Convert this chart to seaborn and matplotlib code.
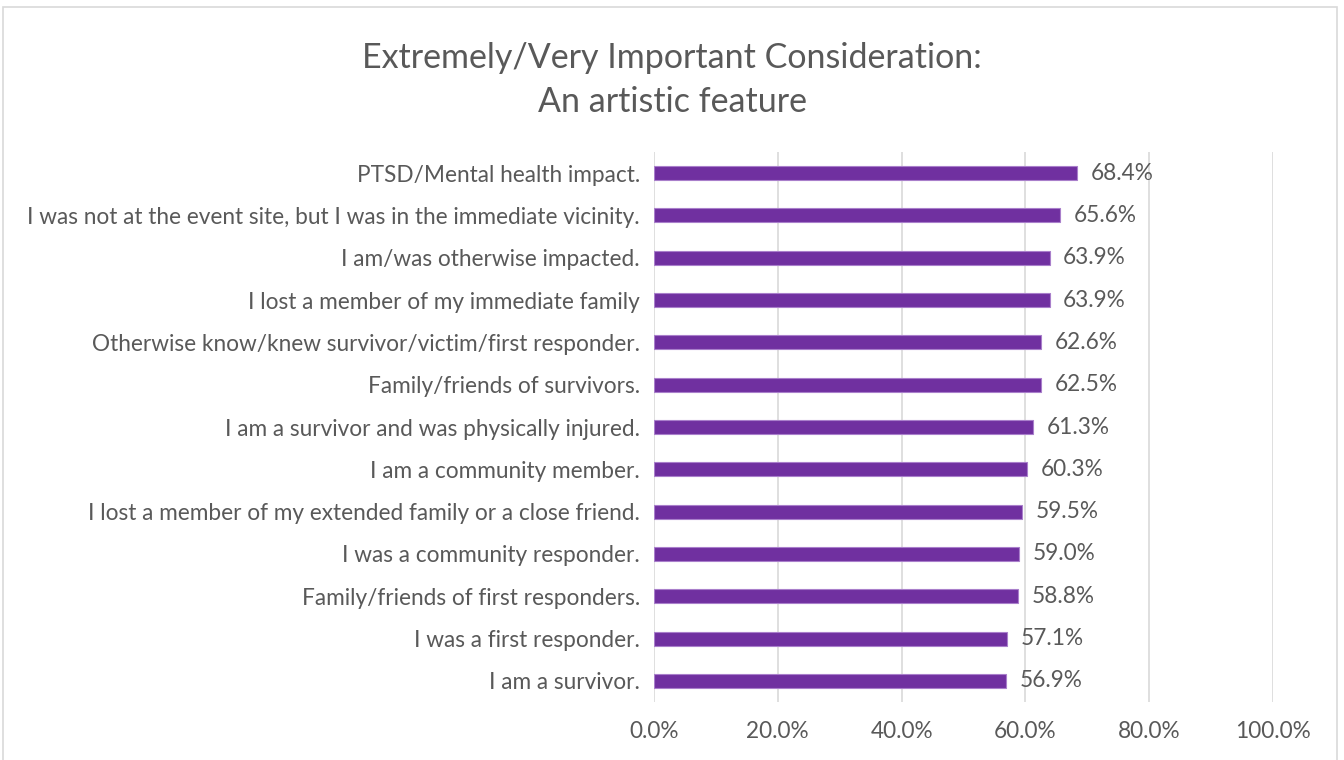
"""Horizontal bar chart: Extremely/Very Important Consideration - An artistic feature."""

import matplotlib

matplotlib.use("Agg")

import matplotlib.pyplot as plt  # noqa: E402
import pandas as pd  # noqa: E402
import seaborn as sns  # noqa: E402
from matplotlib.ticker import FuncFormatter  # noqa: E402

categories = [
    "PTSD/Mental health impact.",
    "I was not at the event site, but I was in the immediate vicinity.",
    "I am/was otherwise impacted.",
    "I lost a member of my immediate family",
    "Otherwise know/knew survivor/victim/first responder.",
    "Family/friends of survivors.",
    "I am a survivor and was physically injured.",
    "I am a community member.",
    "I lost a member of my extended family or a close friend.",
    "I was a community responder.",
    "Family/friends of first responders.",
    "I was a first responder.",
    "I am a survivor.",
]
values = [68.4, 65.6, 63.9, 63.9, 62.6, 62.5, 61.3, 60.3, 59.5, 59.0, 58.8, 57.1, 56.9]

TITLE = "Extremely/Very Important Consideration:\nAn artistic feature"
BAR_COLOR = "#7030A0"
TEXT_COLOR = "#595959"
GRID_COLOR = "#D9D9D9"

sns.set_theme(style="white")
plt.rcParams["font.family"] = ["Lato", "DejaVu Sans"]

df = pd.DataFrame({"category": categories, "value": values})

fig = plt.figure(figsize=(13.44, 7.6), dpi=100)
ax = fig.add_axes([654 / 1344, 58 / 760, 619 / 1344, 550 / 760])

sns.barplot(data=df, x="value", y="category", ax=ax, color=BAR_COLOR,
            width=0.33, edgecolor="#A97FCB", linewidth=0.8, saturation=1)

ax.set_xlim(0, 100)
ax.set_ylim(12.5, -0.5)
ax.set_xticks(range(0, 101, 20))
ax.xaxis.set_major_formatter(FuncFormatter(lambda v, _: f"{v:.1f}%"))
ax.grid(axis="x", color=GRID_COLOR, linewidth=1.2)
ax.set_axisbelow(True)
for s in ax.spines.values():
    s.set_visible(False)
ax.set_xlabel("")
ax.set_ylabel("")
ax.tick_params(axis="both", length=0, labelsize=16.3, labelcolor=TEXT_COLOR)
ax.tick_params(axis="x", pad=14)
ax.tick_params(axis="y", pad=10)

for i, v in enumerate(values):
    ax.text(v + 2.2, i, f"{v:.1f}%", va="center", ha="left",
            fontsize=16.3, color=TEXT_COLOR)

fig.text(0.5, 0.895, TITLE, ha="center", va="center", fontsize=24.5,
         color=TEXT_COLOR, linespacing=1.45)

# light frame around the chart area, like the Excel chart border
fig.add_artist(plt.Rectangle((3 / 1344, -0.01), 1334 / 1344, 1 - 7 / 760 + 0.01,
                             transform=fig.transFigure, fill=False,
                             edgecolor=GRID_COLOR, linewidth=1.2))

fig.savefig("out.png", dpi=100)
